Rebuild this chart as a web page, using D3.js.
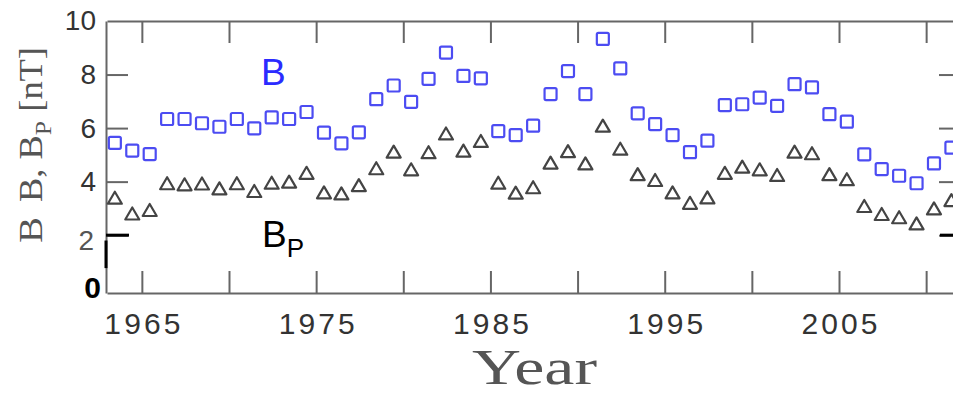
<!DOCTYPE html>
<html><head><meta charset="utf-8">
<script src="https://cdn.jsdelivr.net/npm/d3@7"></script>
<style>html,body{margin:0;padding:0;background:#fff;}svg{display:block;}</style>
</head><body>
<svg id="c" width="953" height="396"></svg>
<script>
const years = d3.range(1963, 2012);
const B = [5.45,5.16,5.03,6.34,6.34,6.18,6.05,6.34,5.99,6.40,6.34,6.60,5.83,5.43,5.84,7.08,7.59,6.98,7.84,8.82,7.95,7.86,5.89,5.74,6.09,7.27,8.13,7.27,9.33,8.23,6.55,6.15,5.74,5.10,5.53,6.86,6.89,7.14,6.83,7.64,7.52,6.52,6.24,5.02,4.47,4.22,3.94,4.68,5.27];
const Bp = [3.40,2.81,2.94,3.94,3.90,3.93,3.75,3.94,3.65,3.96,4.00,4.33,3.60,3.56,3.87,4.50,5.12,4.46,5.10,5.80,5.16,5.52,3.96,3.59,3.79,4.71,5.14,4.68,6.09,5.23,4.28,4.06,3.60,3.21,3.41,4.33,4.56,4.46,4.25,5.12,5.06,4.28,4.09,3.09,2.79,2.67,2.44,3.00,3.31];
const xTicks = [1965,1970,1975,1980,1985,1990,1995,2000,2005,2010];
const yTicks = [2,4,6,8,10];

const svg = d3.select("#c");
const x = d3.scaleLinear().domain([1963, 2012]).range([107, 961]);
const y = d3.scaleLinear().domain([-0.16, 10]).range([293, 21]);
const axisColor = "#666";

function styleAxis(g){
  g.select(".domain").attr("stroke", axisColor).attr("stroke-width", 2);
  g.selectAll(".tick line").attr("stroke", axisColor).attr("stroke-width", 2);
}
// bottom
const gb = svg.append("g").attr("transform", `translate(0,${y.range()[0]})`)
  .call(d3.axisBottom(x).tickValues(xTicks).tickSizeInner(-22).tickSizeOuter(0).tickPadding(20)
    .tickFormat(d => d % 10 === 5 ? String(d) : ""));
styleAxis(gb);
gb.selectAll(".tick text").attr("font-family","Liberation Sans, Arial, sans-serif").attr("font-size",30)
  .attr("fill","#333").attr("textLength", 76).attr("lengthAdjust","spacing");
// top
const gt = svg.append("g").attr("transform", `translate(0,${y.range()[1]})`)
  .call(d3.axisTop(x).tickValues(xTicks).tickSizeInner(-22).tickSizeOuter(0).tickFormat(""));
styleAxis(gt);
// left
const gl = svg.append("g").attr("transform", `translate(${x.range()[0] - 1},0)`)
  .call(d3.axisLeft(y).tickValues(yTicks).tickSizeInner(-22).tickSizeOuter(0).tickPadding(10).tickFormat(d3.format("d")));
styleAxis(gl);
gl.selectAll(".tick text").attr("font-family","Liberation Sans, Arial, sans-serif").attr("font-size",28).attr("fill","#333");
gl.selectAll(".tick").filter(d => d === 10).select("line").remove();
gl.selectAll(".tick").filter(d => d === 2).select("text").attr("fill","#555").attr("dx", -2).attr("dy","0.5em");
// right
const gr = svg.append("g").attr("transform", `translate(${x.range()[1]},0)`)
  .call(d3.axisRight(y).tickValues([2,4,6,8]).tickSizeInner(-22).tickSizeOuter(0).tickFormat(""));
styleAxis(gr);

// black annotation marks
svg.append("line").attr("x1", x.range()[0]-1).attr("x2", x.range()[0]+22).attr("y1", y(2)).attr("y2", y(2))
  .attr("stroke","#000").attr("stroke-width",3);
svg.append("line").attr("x1", x.range()[0]-1).attr("x2", x.range()[0]-1).attr("y1", y(1.8)).attr("y2", y(0.77))
  .attr("stroke","#000").attr("stroke-width",3);
svg.append("line").attr("x1", x.range()[1]-21).attr("x2", x.range()[1]).attr("y1", y(2)).attr("y2", y(2))
  .attr("stroke","#000").attr("stroke-width",3);
svg.append("text").attr("x", 101).attr("y", y(0)).attr("dy","0.32em").attr("text-anchor","end")
  .attr("font-family","Liberation Sans, Arial, sans-serif").attr("font-size",30).attr("font-weight","bold")
  .attr("fill","#000").text("0");

// markers
const off = 0.45;
const sq = 12;
svg.append("g").selectAll("rect").data(years).join("rect")
  .attr("x", (d,i) => x(d+off) - sq/2).attr("y", (d,i) => y(B[i]) - sq/2)
  .attr("width", sq).attr("height", sq).attr("rx", 1.5)
  .attr("fill","none").attr("stroke","#4c4cf2").attr("stroke-width",2.2);
const triW = 14, triH = 12;
svg.append("g").selectAll("path").data(years).join("path")
  .attr("transform", (d,i) => `translate(${x(d+off)},${y(Bp[i])})`)
  .attr("d", () => { const p = d3.path(); p.moveTo(0,-triH/2); p.lineTo(triW/2, triH/2); p.lineTo(-triW/2, triH/2); p.closePath(); return p.toString(); })
  .attr("fill","none").attr("stroke","#444").attr("stroke-width",2.2).attr("stroke-linejoin","round");

// series labels
svg.append("text").attr("x", 261).attr("y", 85).attr("font-family","Liberation Sans, Arial, sans-serif")
  .attr("font-size",37).attr("fill","#2b2bff").text("B");
const bp = svg.append("text").attr("x", 262).attr("y", 247).attr("font-family","Liberation Sans, Arial, sans-serif")
  .attr("font-size",37).attr("fill","#000");
bp.append("tspan").text("B");
bp.append("tspan").attr("font-size",26).attr("dy",10).text("P");

// axis titles
svg.append("text").attr("x", 472).attr("y", 384).attr("font-family","Liberation Serif, Times New Roman, serif")
  .attr("font-size",51).attr("fill","#555").attr("textLength",125).attr("lengthAdjust","spacingAndGlyphs").text("Year");
const yl = svg.append("g").attr("transform","translate(42,0) rotate(-90)");
yl.append("text").attr("x", -243).attr("y", 0).attr("font-family","Liberation Serif, Times New Roman, serif")
  .attr("font-size",34).attr("fill","#555").attr("textLength",26).attr("lengthAdjust","spacingAndGlyphs").text("B");
const yt = yl.append("text").attr("x", -202).attr("y", 0).attr("font-family","Liberation Serif, Times New Roman, serif")
  .attr("font-size",34).attr("fill","#555").attr("textLength",155).attr("lengthAdjust","spacingAndGlyphs");
yt.append("tspan").text("B, B");
yt.append("tspan").attr("font-size",24).attr("dy",9).text("P");
yt.append("tspan").attr("dy",-9).text(" [nT]");
</script>
</body></html>
